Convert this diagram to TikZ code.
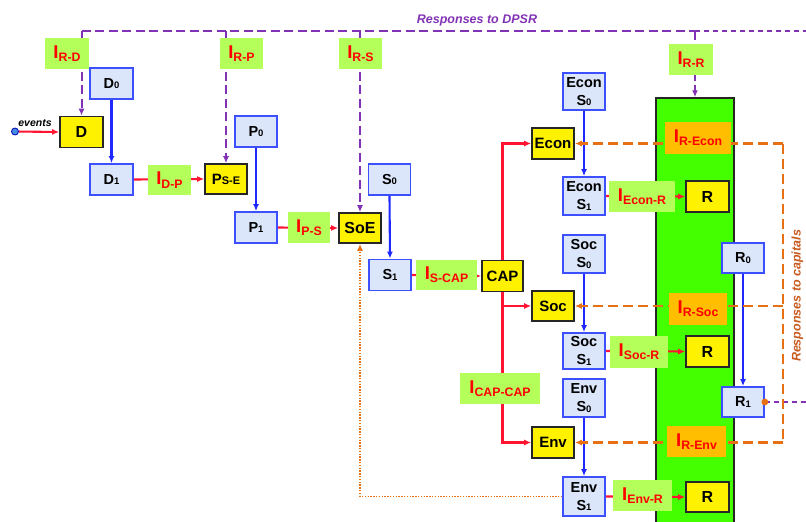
\documentclass[tikz,border=0pt]{standalone}
\usepackage{fontspec}
\setmainfont{Liberation Sans}
\usetikzlibrary{arrows.meta,backgrounds}

\definecolor{boxblue}{RGB}{220,230,250}
\definecolor{edgeblue}{RGB}{60,80,255}
\definecolor{arrowblue}{RGB}{30,40,255}
\definecolor{labgreen}{RGB}{180,255,90}
\definecolor{zonegreen}{RGB}{68,255,0}
\definecolor{amber}{RGB}{255,190,0}
\definecolor{linered}{RGB}{255,20,50}
\definecolor{dpsr}{RGB}{130,50,180}
\definecolor{capline}{RGB}{232,112,20}
\definecolor{captext}{RGB}{200,90,30}

% small index digit inside a state box
\newcommand\subdig[1]{\raisebox{-0.6pt}{\fontsize{9.5}{10}\selectfont #1}}
% indicator label: large I with a lowered index
\newcommand\indic[1]{{\fontsize{18.5}{18}\selectfont I}\raisebox{-3.3pt}{\fontsize{12.3}{12}\selectfont #1}}

\tikzset{
  blu/.style={draw=edgeblue, fill=boxblue, line width=1.8pt, inner sep=0pt, align=center,
    font=\bfseries\fontsize{14.5}{18}\selectfont, minimum width=42pt, minimum height=31pt},
  yel/.style={draw=black!85, fill=yellow, line width=1.6pt, inner sep=0pt,
    font=\bfseries\fontsize{15}{16}\selectfont, minimum width=42pt, minimum height=31pt},
  big/.style={font=\bfseries\fontsize{16}{17}\selectfont},
  lab/.style={fill=labgreen, text=red, inner sep=0pt, font=\bfseries, minimum height=31pt},
  olab/.style={lab, fill=amber},
  tip/.style={-{Latex[length=7pt,width=6pt]}},
  flow/.style={draw=linered, line width=2.1pt, tip},
  down/.style={draw=arrowblue, line width=2.1pt, tip},
  resp/.style={draw=dpsr, line width=2pt, dash pattern=on 9pt off 4.5pt},
  respshort/.style={draw=dpsr, line width=2pt, dash pattern=on 5pt off 4pt},
  capr/.style={draw=capline, line width=2.2pt, dash pattern=on 10pt off 5pt},
  feedback/.style={draw=capline, line width=1.6pt, dash pattern=on 1.4pt off 1.4pt, tip},
}

\begin{document}
\begin{tikzpicture}[x=1pt,y=-1pt]
\useasboundingbox (0,0) rectangle (806,522);

% ---------- state boxes ----------
\node[blu, minimum width=43pt] (D0) at (111.5,83.5) {D\subdig{0}};
\node[blu, minimum width=43pt] (D1) at (111.5,179.5) {D\subdig{1}};
\node[blu] (P0) at (256,131.5) {P\subdig{0}};
\node[blu] (P1) at (256,227.5) {P\subdig{1}};
\node[blu] (S0) at (389.5,179.5) {S\subdig{0}};
\node[blu] (S1) at (390,275) {S\subdig{1}};
\node[blu, minimum height=37pt] (EconS0) at (584,91.5) {Econ\\S\subdig{0}};
\node[blu, minimum height=38pt] (EconS1) at (584,196) {Econ\\S\subdig{1}};
\node[blu, minimum height=38pt] (SocS0) at (584,254) {Soc\\S\subdig{0}};
\node[blu, minimum height=36pt] (SocS1) at (584,351) {Soc\\S\subdig{1}};
\node[blu, minimum height=38pt] (EnvS0) at (584,398) {Env\\S\subdig{0}};
\node[blu, minimum height=39pt] (EnvS1) at (584,496.5) {Env\\S\subdig{1}};
\node[blu, minimum height=30pt] (R0) at (743,258) {R\subdig{0}};
\node[blu, minimum height=30pt] (R1) at (743,402) {R\subdig{1}};

% ---------- pressure / capital boxes ----------
\node[yel, big, minimum width=43pt] (D) at (81.5,132) {D};
\node[yel, minimum height=30pt] (PSE) at (226,179) {P\fontsize{11}{12}\selectfont S-E};
\node[yel, big, minimum height=30pt] (SoE) at (360,228) {SoE};
\node[yel] (Econ) at (553,143.5) {Econ};
\node[yel, minimum width=41pt] (CAP) at (502.5,276) {CAP};
\node[yel, minimum height=30pt] (Soc) at (553,306) {Soc};
\node[yel] (Env) at (553,442.5) {Env};
\node[yel, big, minimum width=43pt] (REcon) at (707.5,196.5) {R};
\node[yel, big, minimum width=43pt] (RSoc) at (707.5,351.5) {R};
\node[yel, big, minimum width=43pt, minimum height=30pt] (REnv) at (707.5,497) {R};

% ---------- indicator labels ----------
\node[lab, minimum width=44pt] (IRD) at (67,53.5) {\indic{R-D}};
\node[lab, minimum width=43pt] (IRP) at (241.5,53.5) {\indic{R-P}};
\node[lab, minimum width=43pt] (IRS) at (360.5,53.5) {\indic{R-S}};
\node[lab, minimum width=44pt] (IRR) at (691,59.5) {\indic{R-R}};
\node[lab, minimum width=43pt, minimum height=30pt] (IDP) at (169.5,180) {\indic{D-P}};
\node[lab, minimum width=42pt] (IPS) at (309,227.5) {\indic{P-S}};
\node[lab, minimum width=61pt, minimum height=30pt] (ISCAP) at (446.5,275) {\indic{S-CAP}};
\node[lab, minimum width=66pt] (IEconR) at (642,196.5) {\indic{Econ-R}};
\node[lab, minimum width=58pt, minimum height=32pt] (ISocR) at (639,352) {\indic{Soc-R}};
\node[lab, minimum width=80pt] (ICAPCAP) at (500,388.5) {\indic{CAP-CAP}};
\node[lab, minimum width=59pt] (IEnvR) at (642.5,495.5) {\indic{Env-R}};
\node[olab, minimum width=66pt, minimum height=32pt] (IREcon) at (698,138) {\indic{R-Econ}};
\node[olab, minimum width=58pt, minimum height=32pt] (IRSoc) at (698,309) {\indic{R-Soc}};
\node[olab, minimum width=59pt] (IREnv) at (696.5,441.5) {\indic{R-Env}};

% ---------- free texts ----------
\node[text=dpsr, font=\bfseries\itshape\fontsize{12.5}{13}\selectfont] (tDPSR) at (477,20) {Responses to DPSR};
\node[text=captext, rotate=90, font=\bfseries\itshape\fontsize{12.5}{13}\selectfont] (tCap) at (797.5,296) {Responses to capitals};
\node[font=\bfseries\itshape\fontsize{10.5}{11}\selectfont] (tEv) at (35,123) {events};
\node[circle, draw=blue!70!black, fill={rgb,255:red,70;green,140;blue,230}, line width=0.8pt,
      inner sep=0pt, minimum size=7pt] (ev) at (15,131.5) {};

% ---------- helper coordinates ----------
\coordinate (top) at (0,31);
\coordinate (edgeTop) at (812,31);
\coordinate (edgeR1) at (812,402);
\coordinate (oE) at (783,143.5);
\coordinate (oS) at (783,306);
\coordinate (oV) at (783,442.5);

\begin{scope}[on background layer]
  % responses zone
  \node[draw=black!85, fill=zonegreen, line width=1.5pt, minimum width=78pt, minimum height=440pt,
        inner sep=0pt] (zone) at (695,318) {};

  % DPSR chain
  \draw[flow] (ev) -- (D.west);
  \draw[down] (D0.south) -- (D1.north);
  \draw[flow] (D1.east) -- (PSE.west);
  \draw[down] (P0.south) -- (P1.north);
  \draw[flow] (P1.east) -- (SoE.west);
  \draw[down] (S0.south) -- (S1.north);
  \draw[flow] (S1.east) -- (CAP.west);

  % capitals
  \draw[flow] (CAP.north) |- (Econ.west);
  \draw[flow] (CAP.south) |- (Soc.west);
  \draw[flow] (CAP.south) |- (Env.west);
  \draw[down] (EconS0.south) -- (EconS1.north);
  \draw[down] (SocS0.south) -- (SocS1.north);
  \draw[down] (EnvS0.south) -- (EnvS1.north);
  \draw[flow] (EconS1.east) -- (REcon.west);
  \draw[flow] (SocS1.east) -- (RSoc.west);
  \draw[flow] (EnvS1.east) -- (REnv.west);
  \draw[down] (R0.south) -- (R1.north);

  % responses to DPSR
  \draw[resp] (D.north |- top) -- (zone.north |- top);
  \draw[respshort] (zone.north |- top) -- (edgeTop);
  \draw[resp, tip] (D.north |- top) -- (D.north);
  \draw[resp, tip] (PSE.north |- top) -- (PSE.north);
  \draw[resp, tip] (SoE.north |- top) -- (SoE.north);
  \draw[resp, tip] (zone.north |- top) -- (zone.north);
  \draw[respshort] (R1.east) -- (edgeR1);

  % responses to capitals
  \draw[capr] (oE) -- (oV);
  \draw[capr, tip] (oE) -- (Econ.east);
  \draw[capr, tip] (oS) -- (Soc.east);
  \draw[capr, tip] (oV) -- (Env.east);

  % feedback of the environment state to the state of environment
  \draw[feedback] (EnvS1.west) -| (SoE.south);
\end{scope}

\fill[capline] (R1.east) circle (3.4pt);
\end{tikzpicture}
\end{document}
